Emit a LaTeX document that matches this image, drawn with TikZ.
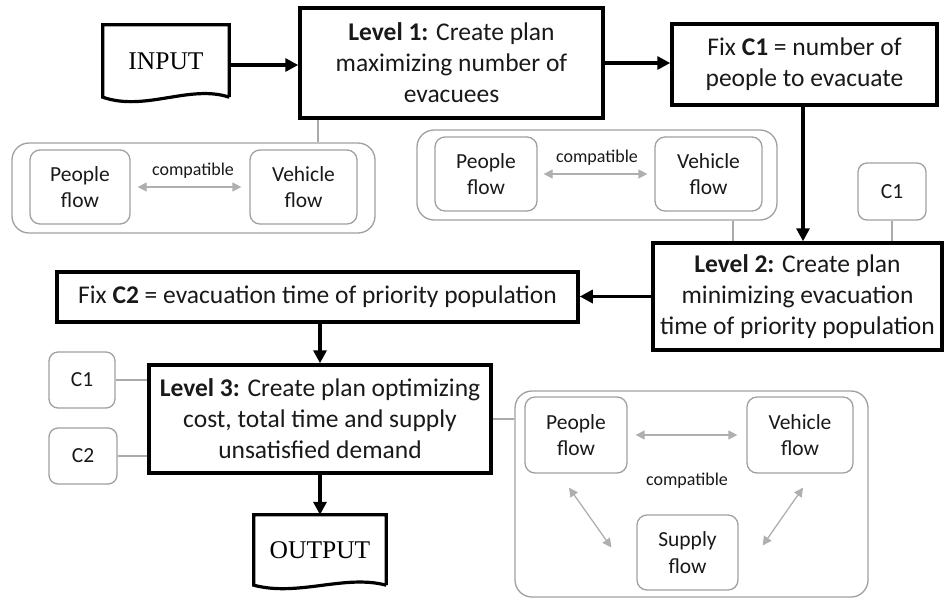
\documentclass[tikz,border=0pt]{standalone}
\usepackage{fontspec}
\setmainfont{Carlito}
\newfontfamily\tnr{Liberation Serif}
\usetikzlibrary{arrows.meta,calc}
\definecolor{gbord}{RGB}{160,160,160}
\definecolor{gline}{RGB}{170,170,170}
\definecolor{garr}{RGB}{175,175,175}
\definecolor{txt}{RGB}{25,25,25}
\begin{document}
\begin{tikzpicture}[x=1pt,y=-1pt,
  mainbox/.style={draw=black,line width=3.5pt,inner sep=2pt,align=center,text=txt,
    font=\fontsize{25.5}{31}\selectfont},
  docbox/.style={inner sep=0pt,font=\tnr\fontsize{25.5}{30}\selectfont},
  docline/.style={line width=3.2pt,line join=miter},
  flowbox/.style={draw=gbord,line width=1.3pt,rounded corners=10pt,align=center,text=txt,
    inner sep=1pt,font=\fontsize{21.5}{26.5}\selectfont},
  cbox/.style={draw=gbord,line width=1.3pt,rounded corners=9pt,text=txt,inner sep=1pt,
    font=\fontsize{21.5}{25}\selectfont},
  group/.style={draw=gbord,line width=1.3pt,rounded corners=17pt,inner sep=0pt},
  compat/.style={text=txt,inner sep=0pt,font=\fontsize{18}{21}\selectfont},
  arr/.style={line width=3.2pt,-{Triangle[length=13pt,width=13pt]}},
  glink/.style={draw=gline,line width=1.3pt},
  garrow/.style={draw=garr,line width=1.3pt,{Triangle[length=9pt,width=9pt]}-{Triangle[length=9pt,width=9pt]}}
]
\useasboundingbox (0,0) rectangle (944,598);

% INPUT document
\node[docbox,minimum width=126pt,minimum height=72pt] (in) at (166,61) {\raisebox{-4pt}{INPUT}};
\draw[docline] (in.south east) -- (in.north east) -- (in.north west) -- (in.south west)
  .. controls (145,112) and (190,84) .. (in.south east);

% main boxes
\node[mainbox,minimum width=303pt,minimum height=110pt] (L1) at (451.5,63)
  {\textbf{Level 1:} Create plan\\maximizing number of\\evacuees};
\node[mainbox,minimum width=265pt,minimum height=81pt] (fc1) at (804.5,64.5)
  {Fix \textbf{C1} = number of\\people to evacuate};
\node[mainbox,minimum width=289pt,minimum height=107pt] (L2) at (797.5,296.5)
  {\textbf{Level 2:} Create plan\\minimizing evacuation\\time of priority population};
\node[mainbox,minimum width=521pt,minimum height=50pt] (fc2) at (317.5,297)
  {Fix \textbf{C2} = evacuation time of priority population};
\node[mainbox,minimum width=342pt,minimum height=108pt] (L3) at (320,419)
  {\textbf{Level 3:} Create plan optimizing\\cost, total time and supply\\unsatisfied demand};

% OUTPUT document
\node[docbox,minimum width=132pt,minimum height=70pt] (out) at (320,550) {\raisebox{-4pt}{OUTPUT}};
\draw[docline] (out.south east) -- (out.north east) -- (out.north west) -- (out.south west)
  .. controls (298,597) and (345,574) .. (out.south east);

% constraint boxes
\node[cbox,minimum width=66pt,minimum height=56pt] (c1a) at (82,380) {C1};
\node[cbox,minimum width=68pt,minimum height=56pt] (c2a) at (83,456) {C2};
\node[cbox,minimum width=68pt,minimum height=57pt] (c1b) at (892,191.5) {C1};

% group 1
\node[group,minimum width=363pt,minimum height=90pt] (g1) at (193.5,188) {};
\node[flowbox,minimum width=100pt,minimum height=74pt] (g1p) at (80,187) {People\\flow};
\node[flowbox,minimum width=107pt,minimum height=74pt] (g1v) at (303.5,187) {Vehicle\\flow};
\node[compat] (g1c) at (193,171) {compatible};
\draw[garrow,shorten <=7pt,shorten >=8pt] (g1p.east) -- (g1v.west);

% group 2
\node[group,minimum width=360pt,minimum height=90pt] (g2) at (597,175) {};
\node[flowbox,minimum width=102pt,minimum height=74pt] (g2p) at (486,174) {People\\flow};
\node[flowbox,minimum width=107pt,minimum height=74pt] (g2v) at (708.5,174) {Vehicle\\flow};
\node[compat] (g2c) at (597,158) {compatible};
\draw[garrow,shorten <=6pt,shorten >=7pt] (g2p.east) -- (g2v.west);

% group 3
\node[group,minimum width=353pt,minimum height=206pt] (g3) at (691.5,494) {};
\node[flowbox,minimum width=102pt,minimum height=76pt] (g3p) at (576,435) {People\\flow};
\node[flowbox,minimum width=106pt,minimum height=76pt] (g3v) at (800,435) {Vehicle\\flow};
\node[flowbox,minimum width=101pt,minimum height=75pt] (g3s) at (687.5,552.5) {Supply\\flow};
\node[compat] (g3c) at (687,481) {compatible};
\draw[garrow,shorten <=8pt,shorten >=9pt] (g3p.east) -- (g3v.west);
\draw[garrow] ([shift={(-7,14)}]g3p.south) -- ([shift={(-25,-5)}]g3s.west);
\draw[garrow] ([shift={(3,14)}]g3v.south) -- ([shift={(24,-7)}]g3s.east);

% gray links
\draw[glink] (L1.south -| 318,0) -- (g1.north -| 318,0);
\draw[glink] (g2.south -| 733,0) -- (L2.north -| 733,0);
\draw[glink] (c1b.south) -- (L2.north -| c1b.south);
\draw[glink] (c1a.east) -- (L3.west |- c1a.east);
\draw[glink] (c2a.east) -- (L3.west |- c2a.east);
\draw[glink] (L3.east) -- (g3.west |- L3.east);

% main arrows
\draw[arr] (in.east |- 0,65) -- (L1.west |- 0,65);
\draw[arr] (L1.east) -- (fc1.west |- L1.east);
\draw[arr] (fc1.south -| 803,0) -- (L2.north -| 803,0);
\draw[arr] (L2.west) -- (fc2.east |- L2.west);
\draw[arr] (fc2.south -| L3.north) -- (L3.north);
\draw[arr] (L3.south) -- (out.north);
\end{tikzpicture}
\end{document}
